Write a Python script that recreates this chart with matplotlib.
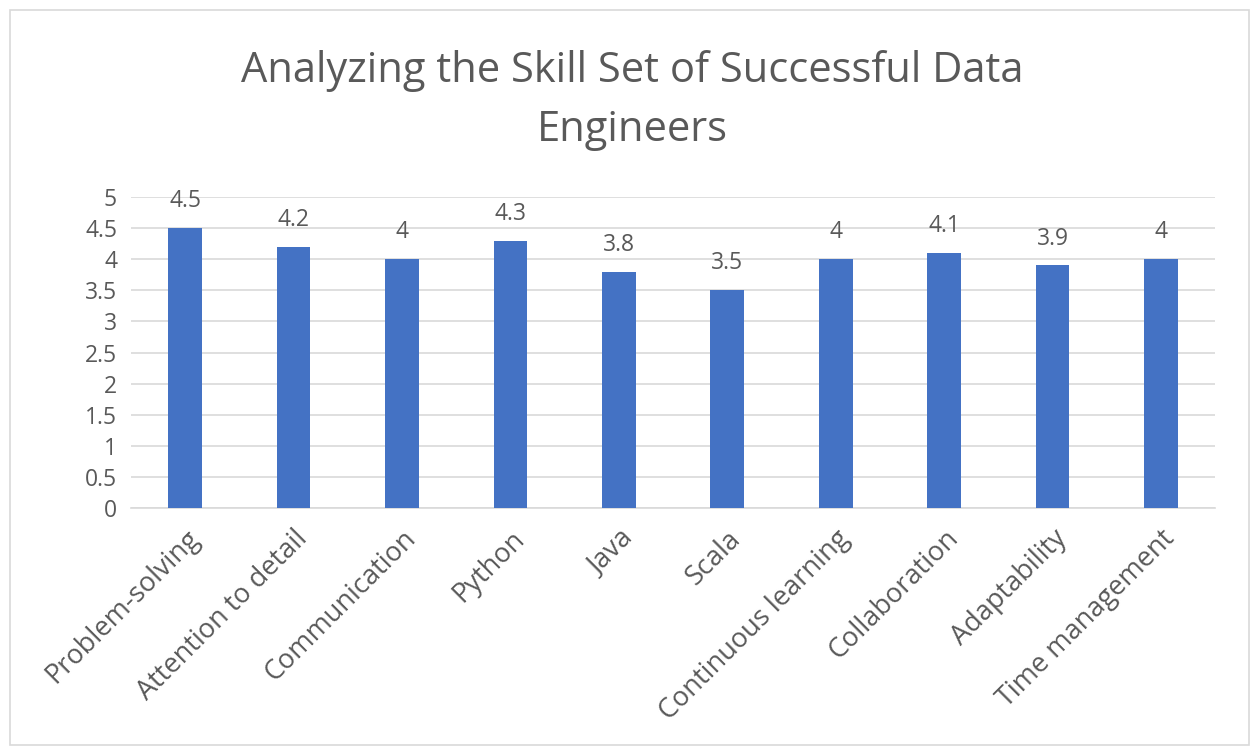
import matplotlib.pyplot as plt
from matplotlib.patches import Rectangle

skills = ['Problem-solving', 'Attention to detail', 'Communication', 'Python', 'Java',
          'Scala', 'Continuous learning', 'Collaboration', 'Adaptability', 'Time management']
scores = [4.5, 4.2, 4, 4.3, 3.8, 3.5, 4, 4.1, 3.9, 4]
yticks = [0, 0.5, 1, 1.5, 2, 2.5, 3, 3.5, 4, 4.5, 5]

plt.rcParams['font.family'] = ['Open Sans', 'DejaVu Sans']
text_color = '#595959'

fig = plt.figure(figsize=(12.52, 7.51), dpi=100)
fig.patches.append(Rectangle((0.008, 0.008), 0.99, 0.979, transform=fig.transFigure,
                             fill=False, edgecolor='#D9D9D9', linewidth=1.2))

ax = fig.add_axes([0.1046, 0.3236, 0.866, 0.414])
x = list(range(len(skills)))
bars = ax.bar(x, scores, width=0.31, color='#4472C4', zorder=3)

for bar, v in zip(bars, scores):
    ax.text(bar.get_x() + bar.get_width() / 2, v + 0.24, f'{v:g}',
            ha='center', va='bottom', fontsize=16.5, color=text_color)

ax.set_xlim(-0.5, len(skills) - 0.5)
ax.set_ylim(0, 5)
ax.set_yticks(yticks)
ax.set_yticklabels([f'{t:g}' for t in yticks], fontsize=16.5, color=text_color)
ax.set_xticks(x)
ax.set_xticklabels(skills, rotation=45, ha='right', rotation_mode='anchor',
                   fontsize=19.5, color=text_color)
ax.tick_params(axis='y', length=0, pad=10)
ax.tick_params(axis='x', length=0, pad=12)
ax.grid(axis='y', color='#D9D9D9', linewidth=1.2, zorder=0)
for s in ['top', 'right', 'left']:
    ax.spines[s].set_visible(False)
ax.spines['bottom'].set_color('#D9D9D9')
ax.spines['bottom'].set_linewidth(1.2)

fig.text(0.505, 0.866, 'Analyzing the Skill Set of Successful Data\nEngineers',
         ha='center', va='center', fontsize=30, color=text_color, linespacing=1.55)

plt.savefig('out.png', dpi=100)
plt.close()
